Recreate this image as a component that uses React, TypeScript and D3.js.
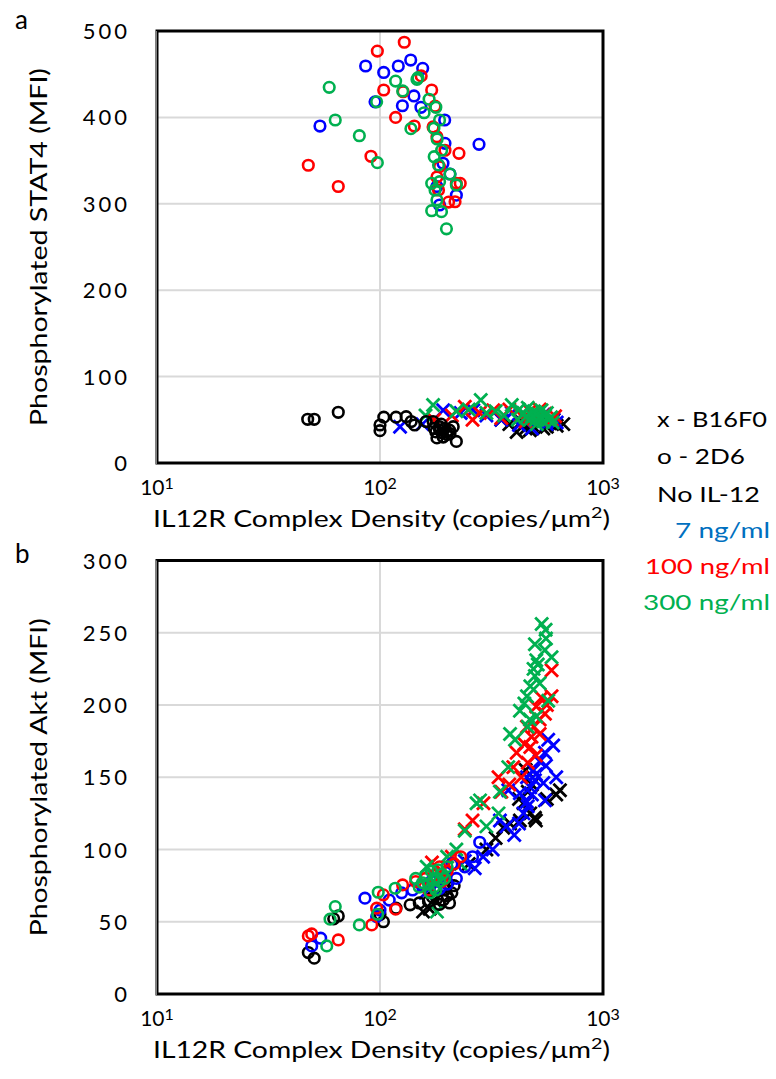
import React from "react";
import * as d3 from "d3";

// ---------- Panel a: Phosphorylated STAT4 ----------
// circles (2D6)
const stat4_2D6_none: [number, number][] = [[47.4,50.6],[50.7,50.6],[65,58.7],[100,37.4],[100,44],[104,53],[118,53],[131,53.6],[138,48],[143,44],[161,48],[173,48],[185,38],[199,36],[192,30],[206,34],[220,25],[180,29],[213,42],[185,42],[190,35],[195,40],[200,33],[178,36],[205,38],[188,45],[175,40]];
const stat4_2D6_7: [number, number][] = [[86.2,459.5],[103.9,452],[120.8,459.5],[137.3,466.4],[155.4,456.8],[95,418],[126,413.5],[142,424.8],[152.6,411.7],[53.8,390],[195,397],[278,368.8],[195.6,370],[191.6,346.9],[206,334.5],[220,310],[185,298.6],[180,320]];
const stat4_2D6_100: [number, number][] = [[128.5,487],[97.3,476.8],[47.7,344.6],[65,320],[91.1,355],[103.9,431.7],[117.5,400],[142.5,390],[127,429.7],[153,448],[170.5,431.7],[176.5,413],[173,389],[180,377.7],[195.6,362],[226,358.4],[185,343],[180,331],[220,323.7],[229,323.7],[217,302.4],[203,302],[183,316]];
const stat4_2D6_300: [number, number][] = [[59.2,434.8],[63,397],[80.8,378.8],[97.3,347.6],[96.6,418],[117.5,442],[126.4,430.6],[146.5,444],[148,446],[166,421],[178,411.7],[157.7,405.4],[185,397],[174.5,387.4],[137.6,387],[180.4,375],[189,362],[175,354.5],[183,345],[206,334.5],[170.5,323.7],[185,325.6],[220,321.8],[176.5,316],[180,304.4],[170.5,292],[188.7,290.9],[198.6,271]];
// crosses (B16F0)
const stat4_B16_none: [number, number][] = [[410,36],[664,45],[560,42],[480,44],[450,40],[520,47],[600,50],[380,45],[500,52],[540,40],[430,48],[620,43],[470,38],[350,50],[580,46]];
const stat4_B16_7: [number, number][] = [[123,42],[192,61],[262,61],[155,45],[300,55],[350,50],[420,44],[460,52],[510,48],[560,45],[600,50],[230,58],[390,58],[480,40],[540,56],[620,47]];
const stat4_B16_100: [number, number][] = [[240,65],[322,61],[175,50],[210,55],[280,58],[380,62],[430,55],[470,60],[500,52],[550,57],[590,50],[260,50],[350,52],[450,48],[520,62],[610,54]];
const stat4_B16_300: [number, number][] = [[173,67],[283,73],[390,67],[160,55],[220,60],[250,62],[330,60],[360,55],[420,62],[440,58],[460,64],[480,54],[490,60],[500,50],[510,57],[520,52],[530,61],[540,48],[550,55],[560,58],[570,50],[585,53],[595,47],[505,45],[470,50],[450,53],[415,50],[300,58]];

// ---------- Panel b: Phosphorylated Akt ----------
const akt_2D6_none: [number, number][] = [[47.7,28.7],[50.7,24.8],[65,54],[103.6,50],[118,59.4],[136.5,61.7],[150,63],[165,64],[180,66],[192,65],[200,68],[210,70],[185,62],[172,67],[195,72],[215,75],[205,63],[100,55],[62,52]];
const akt_2D6_7: [number, number][] = [[49.4,33.3],[54.2,38.6],[85.6,66.3],[96.6,53.6],[280,105],[220,80],[110,65],[125,70],[140,72],[155,75],[170,78],[185,73],[200,76],[240,88],[260,95],[210,90],[100,58]];
const akt_2D6_100: [number, number][] = [[47.7,40.2],[49.4,41.6],[65,37.4],[91.8,47.8],[96.6,59.4],[103.5,68.6],[117.5,58.7],[126.3,75.5],[144.6,77.8],[160,80],[175,82],[190,78],[200,85],[215,90],[230,95],[185,88],[165,72]];
const akt_2D6_300: [number, number][] = [[57.7,33.3],[59.7,51.8],[63,60.5],[80.8,47.8],[97.6,55.2],[98.2,70.4],[117,73.2],[144.6,80],[173.5,79],[160,82],[165,76],[170,85],[175,74],[180,80],[185,78],[190,83],[178,72],[168,70],[155,77],[182,86],[195,80],[150,74],[200,88]];
const akt_B16_none: [number, number][] = [[641,141],[617,138],[495,122],[472,125],[424,120],[383,118],[357,115],[450,155],[167,59],[156,57],[330,108],[300,100],[460,140],[440,132],[480,145],[420,135],[500,120],[560,135],[250,90],[200,72],[175,65]];
const akt_B16_7: [number, number][] = [[568,176],[598,172],[549,167],[520,161],[555,158],[488,155],[456,150],[495,148],[472,143],[424,139],[617,150],[540,146],[456,133],[549,134],[376,141],[345,120],[369,116],[266,87],[240,92],[290,95],[320,100],[440,125],[460,130],[480,138],[500,152],[420,118],[400,110],[200,82],[180,75],[160,70]];
const akt_B16_100: [number, number][] = [[588,224],[588,206],[502,199],[549,194],[520,190],[456,185],[478,178],[444,173],[410,167],[472,171],[396,157],[340,150],[291,132],[240,114],[171,91],[520,180],[490,185],[500,165],[460,160],[430,150],[380,145],[350,140],[210,95],[190,85],[260,120],[560,200],[530,205]];
const akt_B16_300: [number, number][] = [[531,256],[553,252],[555,246],[495,242],[549,238],[588,233],[502,231],[488,225],[495,220],[472,213],[456,206],[444,201],[568,203],[424,196],[502,192],[383,180],[403,176],[376,157],[345,140],[281,134],[340,125],[300,116],[271,132],[162,88],[180,57],[520,215],[510,228],[470,190],[460,185],[240,113],[220,100],[200,95],[180,80],[230,90]];

const xTicks = [10, 100, 1000];
const stat4Ticks = [0, 100, 200, 300, 400, 500];
const aktTicks = [0, 50, 100, 150, 200, 250, 300];

const COL = { none: "#000000", c7: "#0000FF", c100: "#FF0000", c300: "#00B050" };
const legendLeft = [
  { text: "x - B16F0", w: 110 },
  { text: "o - 2D6", w: 88 },
  { text: "No IL-12", w: 103 },
];
const legendRight = [
  { text: "7 ng/ml", color: "#0070C0", w: 95 },
  { text: "100 ng/ml", color: "#FF0000", w: 125 },
  { text: "300 ng/ml", color: "#00B050", w: 127 },
];

const FONT = "Lato, 'Open Sans', sans-serif";

type Series = { data: [number, number][]; color: string; shape: "x" | "o" };

function Panel(props: {
  top: number; bottom: number; yMax: number; yTicks: number[];
  series: Series[]; yTitle: string; yTitleLen: number; letter: string; letterY: number;
}) {
  const { top, bottom, yMax, yTicks, series, yTitle, yTitleLen, letter, letterY } = props;
  const left = 157, right = 603;
  const x = d3.scaleLog().domain([10, 1000]).range([left, right]);
  const y = d3.scaleLinear().domain([0, yMax]).range([bottom, top]);
  const R = 5.3, H = 6.5;
  return (
    <g>
      {yTicks.map((t) => (
        <line key={"g" + t} x1={left} x2={right} y1={y(t)} y2={y(t)} stroke="#d9d9d9" strokeWidth={2} />
      ))}
      {xTicks.map((t) => (
        <line key={"v" + t} x1={x(t)} x2={x(t)} y1={top} y2={bottom} stroke="#d9d9d9" strokeWidth={2} />
      ))}
      {series.map((s, si) => (
        <g key={si} stroke={s.color} fill="none">
          {s.data.map((d, i) => {
            const cx = x(d[0]), cy = y(d[1]);
            return s.shape === "o" ? (
              <circle key={i} cx={cx} cy={cy} r={R} strokeWidth={2.6} />
            ) : (
              <path key={i} d={`M${cx - H},${cy - H}L${cx + H},${cy + H}M${cx - H},${cy + H}L${cx + H},${cy - H}`} strokeWidth={2.8} />
            );
          })}
        </g>
      ))}
      <rect x={left} y={top} width={right - left} height={bottom - top} fill="none" stroke="#000" strokeWidth={3} />
      <line x1={left - 1} x2={left - 1} y1={top} y2={bottom + 1} stroke="#808080" strokeWidth={2} />
      {yTicks.map((t) => (
        <text key={"t" + t} x={130} y={y(t) + 8} textAnchor="end" fontSize={22} letterSpacing={3} fontFamily={FONT} fill="#000">{t}</text>
      ))}
      {xTicks.map((t) => (
        <text key={"x" + t} x={x(t)} y={bottom + 32} textAnchor="middle" fontSize={21} fontFamily={FONT} fill="#000">
          10<tspan fontSize={16} dy={-6}>{Math.round(Math.log10(t))}</tspan>
        </text>
      ))}
      <text x={153} y={bottom + 64} fontSize={23} fontFamily={FONT} fill="#000" textLength={457} lengthAdjust="spacingAndGlyphs">
        IL12R Complex Density (copies/μm<tspan fontSize={16} dy={-9}>2</tspan><tspan dy={9}>)</tspan>
      </text>
      <text transform={`translate(47,${(top + bottom) / 2}) rotate(-90)`} textAnchor="middle" fontSize={24} fontFamily={FONT} fill="#000" textLength={yTitleLen} lengthAdjust="spacingAndGlyphs">{yTitle}</text>
      <text x={15} y={letterY} fontSize={26} fontFamily={FONT} fill="#000">{letter}</text>
    </g>
  );
}

export default function App() {
  const seriesA: Series[] = [
    { data: stat4_B16_none, color: COL.none, shape: "x" },
    { data: stat4_B16_7, color: COL.c7, shape: "x" },
    { data: stat4_B16_100, color: COL.c100, shape: "x" },
    { data: stat4_B16_300, color: COL.c300, shape: "x" },
    { data: stat4_2D6_none, color: COL.none, shape: "o" },
    { data: stat4_2D6_7, color: COL.c7, shape: "o" },
    { data: stat4_2D6_100, color: COL.c100, shape: "o" },
    { data: stat4_2D6_300, color: COL.c300, shape: "o" },
  ];
  const seriesB: Series[] = [
    { data: akt_B16_none, color: COL.none, shape: "x" },
    { data: akt_B16_7, color: COL.c7, shape: "x" },
    { data: akt_B16_100, color: COL.c100, shape: "x" },
    { data: akt_B16_300, color: COL.c300, shape: "x" },
    { data: akt_2D6_none, color: COL.none, shape: "o" },
    { data: akt_2D6_7, color: COL.c7, shape: "o" },
    { data: akt_2D6_100, color: COL.c100, shape: "o" },
    { data: akt_2D6_300, color: COL.c300, shape: "o" },
  ];
  const leftY = [427, 464, 502];
  const rightY = [538, 574, 610];
  return (
    <svg width={776} height={1079} style={{ position: "absolute", left: 0, top: 0, background: "#fff" }}>
      <rect width={776} height={1079} fill="#fff" />
      <Panel top={31} bottom={463} yMax={500} yTicks={stat4Ticks} series={seriesA} yTitle="Phosphorylated STAT4 (MFI)" yTitleLen={358} letter="a" letterY={29} />
      <Panel top={560.5} bottom={994} yMax={300} yTicks={aktTicks} series={seriesB} yTitle="Phosphorylated Akt (MFI)" yTitleLen={318} letter="b" letterY={563} />
      {legendLeft.map((l, i) => (
        <text key={l.text} x={657} y={leftY[i]} fontSize={22} fontFamily={FONT} fill="#000" textLength={l.w} lengthAdjust="spacingAndGlyphs">{l.text}</text>
      ))}
      {legendRight.map((l, i) => (
        <text key={l.text} x={770 - l.w} y={rightY[i]} fontSize={22} fontFamily={FONT} fill={l.color} textLength={l.w} lengthAdjust="spacingAndGlyphs">{l.text}</text>
      ))}
    </svg>
  );
}
